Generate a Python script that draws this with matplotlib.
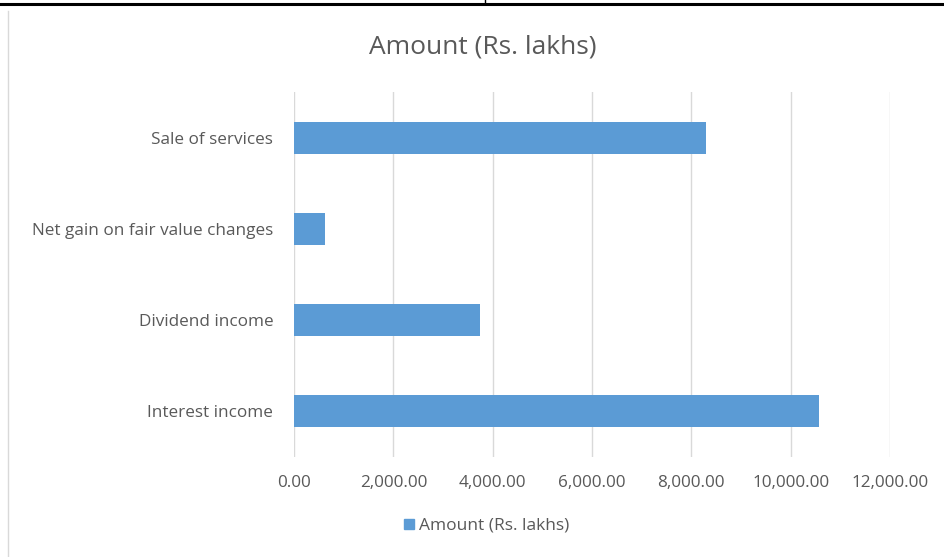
import matplotlib.pyplot as plt
from matplotlib.lines import Line2D
from matplotlib.patches import Patch
from matplotlib.ticker import FuncFormatter

# data
categories = ['Interest income', 'Dividend income',
              'Net gain on fair value changes', 'Sale of services']
amounts = [10580, 3740, 620, 8290]
x_ticks = [0, 2000, 4000, 6000, 8000, 10000, 12000]

bar_color = '#5B9BD5'
text_color = '#595959'
plt.rcParams['font.family'] = ['Open Sans', 'DejaVu Sans']

fig = plt.figure(figsize=(9.45, 5.57), dpi=100)
ax = fig.add_axes([294 / 945, 1 - 457 / 557, (890 - 294) / 945, 365 / 557])

ax.barh(range(len(categories)), amounts, height=0.35, color=bar_color, zorder=3)
ax.set_ylim(-0.5, len(categories) - 0.5)
ax.set_xlim(0, 12000)
ax.set_xticks(x_ticks)
ax.xaxis.set_major_formatter(FuncFormatter(lambda v, p: f'{v:,.2f}'))
ax.set_yticks(range(len(categories)))
ax.set_yticklabels(categories)
ax.grid(axis='x', color='#D9D9D9', linewidth=1, zorder=0)
for s in ax.spines.values():
    s.set_visible(False)
ax.tick_params(length=0, labelsize=12.3, labelcolor=text_color)
ax.tick_params(axis='x', pad=13)
ax.tick_params(axis='y', pad=15)

fig.text(483 / 945, 1 - 47 / 557, 'Amount (Rs. lakhs)', ha='center', va='center',
         fontsize=19, color=text_color)

leg = fig.legend(handles=[Patch(color=bar_color, label='Amount (Rs. lakhs)')],
                 loc='center', bbox_to_anchor=(487 / 945, 1 - 526 / 557),
                 frameon=False, fontsize=12.5, handlelength=0.55, handleheight=0.55,
                 handletextpad=0.3)
for t in leg.get_texts():
    t.set_color(text_color)

# frame lines from the screenshot
fig.add_artist(Line2D([0, 1], [1 - 3.5 / 557, 1 - 3.5 / 557], color='black', linewidth=2.2))
fig.add_artist(Line2D([485 / 945, 485 / 945], [1, 1 - 3 / 557], color='black', linewidth=1))
fig.add_artist(Line2D([8 / 945, 8 / 945], [0, 1 - 11 / 557], color='#D9D9D9', linewidth=1))

fig.savefig('out.png', dpi=100)
